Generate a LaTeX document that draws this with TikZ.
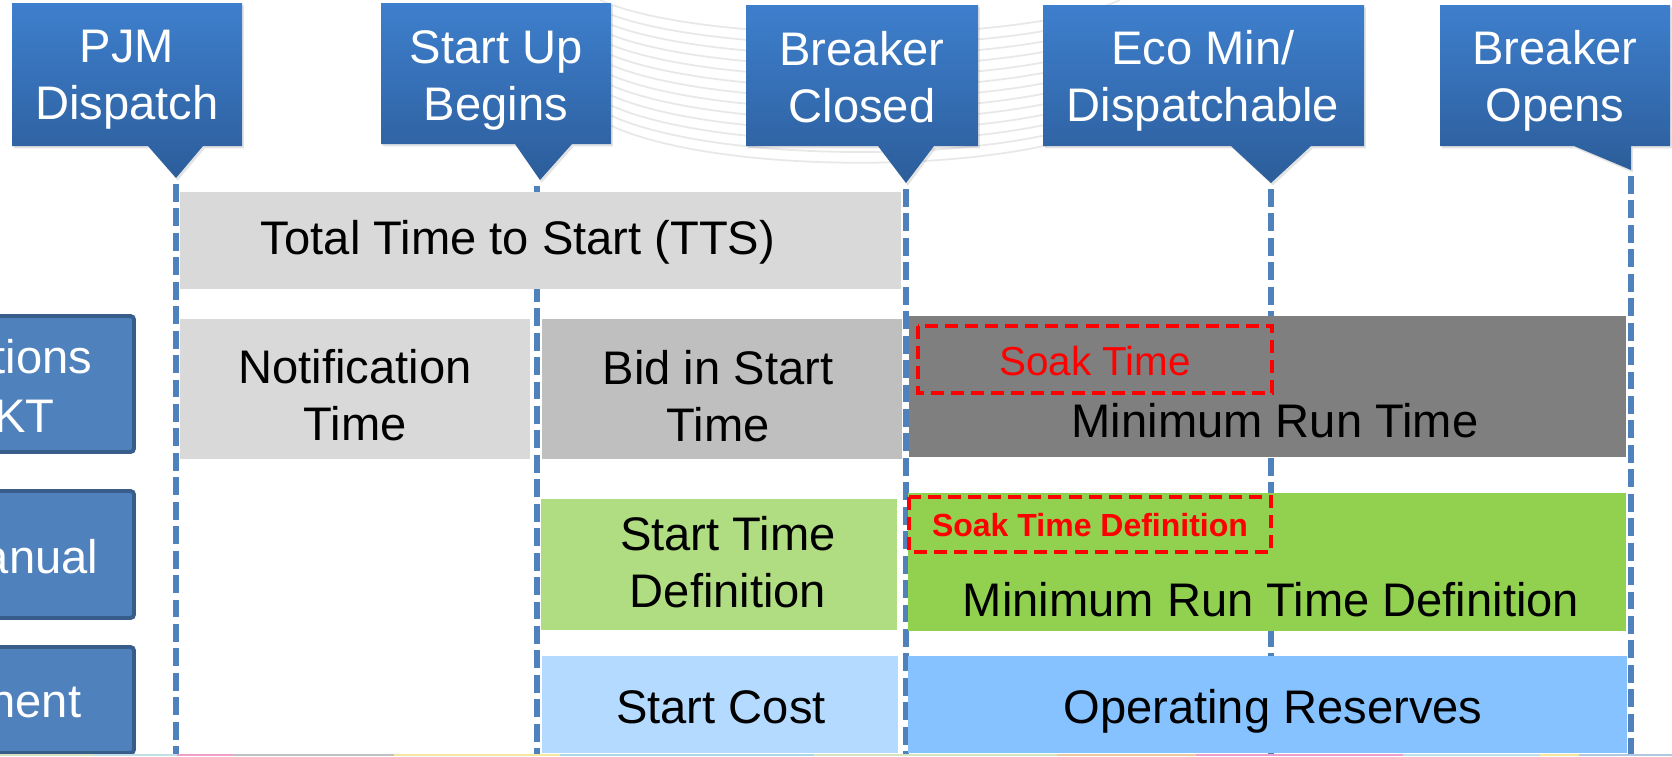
\documentclass[tikz,border=0pt]{standalone}
\usepackage{fontspec}
\setmainfont{Liberation Sans}
\usepackage{tikz}
\usetikzlibrary{calc, shadows}
\tikzset{>=latex}
\definecolor{callouttop}{RGB}{62, 127, 205}
\definecolor{calloutbot}{RGB}{44, 93, 154}
\definecolor{linkblue}{RGB}{79, 129, 189}
\definecolor{sideedge}{RGB}{56, 93, 138}
\definecolor{mygray1}{RGB}{217, 217, 217}
\definecolor{mygray2}{RGB}{191, 191, 191}
\definecolor{mygray3}{RGB}{127, 127, 127}
\definecolor{mygreen1}{RGB}{176, 220, 130}
\definecolor{mygreen2}{RGB}{146, 208, 80}
\definecolor{myblue1}{RGB}{180, 218, 255}
\definecolor{myblue2}{RGB}{133, 194, 255}
\definecolor{stripgreen}{RGB}{213, 228, 192}
\definecolor{stripcyan}{RGB}{192, 224, 232}
\definecolor{strippink}{RGB}{240, 160, 200}
\definecolor{stripgray}{RGB}{192, 192, 192}
\definecolor{stripyellow}{RGB}{245, 230, 160}
\definecolor{stripblue}{RGB}{168, 216, 232}
\definecolor{strippeach}{RGB}{240, 200, 160}
\definecolor{stripsteel}{RGB}{176, 200, 224}
\newcommand{\bigtext}{\fontsize{13.4pt}{16.2pt}\selectfont}

\begin{document}
\begin{tikzpicture}[x=0.01cm, y=-0.01cm,
  milestone/.style={draw=linkblue, line width=1.55pt, dash pattern=on 5.1pt off 1.85pt},
  lbl/.style={inner sep=0pt, font=\bigtext, align=center},
  soakbox/.style={draw=red, line width=1pt, dash pattern=on 3.7pt off 2pt},
  callout/.style={top color=callouttop, bottom color=calloutbot, drop shadow={opacity=0.22, shadow xshift=0.5pt, shadow yshift=-0.7pt}},
  sidebox/.style={fill=linkblue, draw=sideedge, line width=1.1pt, rounded corners=1pt}]
\useasboundingbox (0,0) rectangle (1672,756);
\fill[white] (0,0) rectangle (1672,756);

% faint globe lines behind the callouts
\foreach \i in {0,...,12}
  \draw[black!9, line width=0.5pt] (600,10*\i) .. controls (700,45+11*\i) and (1020,45+11*\i) .. (1120,10*\i);

% milestone tips
\coordinate (floor) at (0,756);
\coordinate (pjmtip) at (176,178);
\coordinate (startuptip) at (540,180);
\coordinate (closedtip) at (906,183);
\coordinate (ecotip) at (1271,183);
\coordinate (openstip) at (1631,170);

\foreach \t/\dx in {pjmtip/0, startuptip/-3, closedtip/0, ecotip/0, openstip/0}
  \draw[milestone] ($(\t)+(\dx,6)$) -- ($(\t |- floor)+(\dx,0)$);

% bars
\fill[mygray1] (180,192) rectangle (901,289);
\fill[mygray1] (180,319) rectangle (530,459);
\fill[mygray2] (542,319) rectangle (902,459);
\fill[mygray3] (909,316) rectangle (1626,457);
\fill[mygreen1] (541,499) rectangle (897,630);
\fill[mygreen2] (908,493) rectangle (1626,631);
\fill[myblue1] (542,656) rectangle (898,753);
\fill[myblue2] (908,656) rectangle (1627,753);

\draw[soakbox] (918,326) rectangle (1272,393);
\draw[soakbox] (909,497) rectangle (1271,552);

\node[lbl, anchor=base] (tts) at (518,254) {Total Time to Start (TTS)};
\node[lbl] (notif) at (355,395) {Notification\\Time};
\node[lbl] (bid) at (718,396) {Bid in Start\\Time};
\node[lbl, anchor=base] (minrun) at (1275,437) {Minimum Run Time};
\node[lbl, anchor=base, text=red, font=\fontsize{11.5pt}{14pt}\selectfont] (soak) at (1095,375) {Soak Time};
\node[lbl] (stdef) at (728,562) {Start Time\\Definition};
\node[lbl, anchor=base, text=red, font=\bfseries\fontsize{9.1pt}{11pt}\selectfont] (soakdef) at (1090,536) {Soak Time Definition};
\node[lbl, anchor=base] (minrundef) at (1271,616) {Minimum Run Time Definition};
\node[lbl, anchor=base] (cost) at (721,723) {Start Cost};
\node[lbl, anchor=base] (reserves) at (1273,723) {Operating Reserves};

% callouts
\path[callout] (12,3) -- (242,3) -- (242,146) -- (203,146) -- (pjmtip) -- (148,146) -- (12,146) -- cycle;
\path[callout] (381,3) -- (611,3) -- (611,144) -- (572,144) -- (startuptip) -- (515,144) -- (381,144) -- cycle;
\path[callout] (746,5) -- (978,5) -- (978,146) -- (934,146) -- (closedtip) -- (878,146) -- (746,146) -- cycle;
\path[callout] (1043,5) -- (1364,5) -- (1364,146) -- (1311,146) -- (ecotip) -- (1231,146) -- (1043,146) -- cycle;
\path[callout] (1440,5) -- (1670,5) -- (1670,146) -- (1631,146) -- (openstip) -- (1574,146) -- (1440,146) -- cycle;

\node[lbl, text=white] (pjm) at (127,80) {PJM\\Dispatch};
\node[lbl, text=white] (startup) at (496,80) {Start Up\\Begins};
\node[lbl, text=white] (closed) at (862,77) {Breaker\\Closed};
\node[lbl, text=white] (eco) at (1203,81) {Eco Min/\\Dispatchable};
\node[lbl, text=white] (opens) at (1555,81) {Breaker\\Opens};

% side boxes
\draw[sidebox] (-30,316) rectangle (134,452);
\draw[sidebox] (-30,491) rectangle (134,618);
\draw[sidebox] (-30,647) rectangle (134,753);
\node[lbl, anchor=base east, text=white] (sidea) at (93,373) {tions};
\node[lbl, anchor=base east, text=white] (sideb) at (55,432) {KT};
\node[lbl, anchor=base east, text=white] (sidec) at (99,573) {anual};
\node[lbl, anchor=base east, text=white] (sided) at (82,717) {nent};

% strip along the bottom edge
\foreach \xa/\xb/\c in {0/94/stripgreen, 94/177/stripcyan, 177/233/strippink, 233/394/stripgray,
  394/560/stripyellow, 560/814/stripblue, 814/1057/stripgreen, 1057/1196/strippeach,
  1196/1403/strippink, 1403/1540/stripcyan, 1540/1579/stripyellow, 1579/1672/stripsteel}
  \fill[\c] (\xa,754) rectangle (\xb,756);

\end{tikzpicture}
\end{document}
